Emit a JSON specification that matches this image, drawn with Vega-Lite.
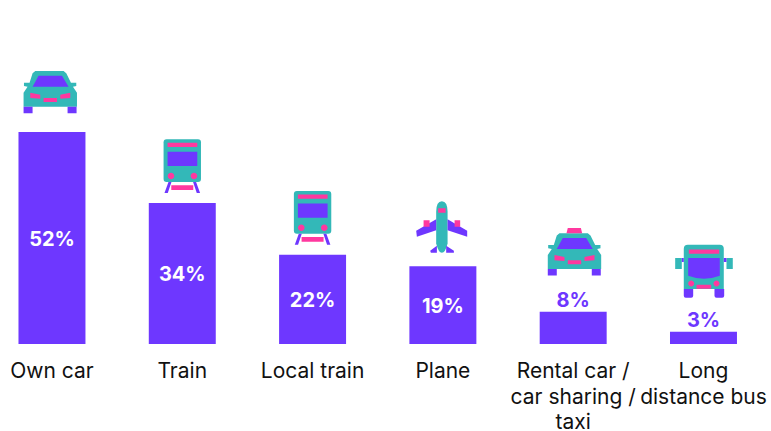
{
"$schema":"https://vega.github.io/schema/vega-lite/v6.json",
"width":771,"height":344,
"autosize":{"type":"none"},
"padding":{"left":0,"right":0,"top":0,"bottom":87},
"background":"white",
"config":{"view":{"stroke":null}},
"data":{"values":[
{"category":"Own car","value":52,"label":"52%"},
{"category":"Train","value":34.6,"label":"34%"},
{"category":"Local train","value":21.9,"label":"22%"},
{"category":"Plane","value":19.1,"label":"19%"},
{"category":"Rental car / car sharing / taxi","value":7.9,"label":"8%"},
{"category":"Long distance bus","value":3,"label":"3%"}
]},
"encoding":{
"x":{"field":"category","type":"nominal","sort":null,"title":null,
"scale":{"paddingInner":0.486,"paddingOuter":0.2015,"align":0.352},
"axis":{"domain":false,"ticks":false,"labelAngle":0,"labelFont":"Inter","labelFontSize":21,"labelColor":"#111111","labelLimit":400,"labelPadding":33.5,"labelLineHeight":25.5,"labelBaseline":"alphabetic",
"labelExpr":"datum.label=='Rental car / car sharing / taxi' ? ['Rental car /','car sharing /','taxi'] : datum.label=='Long distance bus' ? ['Long','distance bus'] : datum.label"}},
"y":{"field":"value","type":"quantitative","title":null,"axis":null,"scale":{"domain":[0,84.4],"nice":false,"zero":true}}
},
"layer":[
{"mark":{"type":"bar","color":"#6e37ff"}},
{"mark":{"type":"point","filled":true,"opacity":1,"size":4,"color":"#33b8b8"},
"encoding":{"shape":{"field":"category","type":"nominal","legend":null,"scale":{"domain":["Own car","Train","Local train","Plane","Rental car / car sharing / taxi","Long distance bus"],"range":[
"M-16.7,-61 L11.6,-61 L14.3,-58.7 L19,-49.3 L24.3,-49.3 L24.3,-46 L21,-45.3 L25,-39.3 L25,-25.3 L-28.4,-25.3 L-28.4,-39.3 L-24.4,-45.3 L-28,-46 L-28,-49.3 L-22.4,-49.3 L-19.4,-58.7 Z",
"M-15.7,-63.7 L15.7,-63.7 Q18.7,-63.7 18.7,-60.7 L18.7,-24 Q18.7,-21 15.7,-21 L-15.7,-21 Q-18.7,-21 -18.7,-24 L-18.7,-60.7 Q-18.7,-63.7 -15.7,-63.7 Z",
"M-15.7,-63.7 L15.7,-63.7 Q18.7,-63.7 18.7,-60.7 L18.7,-24 Q18.7,-21 15.7,-21 L-15.7,-21 Q-18.7,-21 -18.7,-24 L-18.7,-60.7 Q-18.7,-63.7 -15.7,-63.7 Z",
"M-1,-65 Q4.7,-65 4.7,-54.3 L4.7,-22.7 Q2.3,-13.3 -1,-13.3 Q-4.3,-13.3 -6.7,-22.7 L-6.7,-54.3 Q-6.7,-65 -1,-65 Z",
"M-13.7,-78.5 L14.6,-78.5 L17.3,-76.2 L22,-66.8 L27.3,-66.8 L27.3,-63.5 L24,-62.8 L28,-56.8 L28,-42.8 L-25.4,-42.8 L-25.4,-56.8 L-21.4,-62.8 L-25,-63.5 L-25,-66.8 L-19.4,-66.8 L-16.4,-76.2 Z",
"M-15.7,-87 L16.3,-87 Q20.3,-87 20.3,-83 L20.3,-42.7 L-19.7,-42.7 L-19.7,-83 Q-19.7,-87 -15.7,-87 Z M-28.3,-73.7 L-21.7,-73.7 L-21.7,-62.7 L-28.3,-62.7 Z M23,-73.7 L29.3,-73.7 L29.3,-62.7 L23,-62.7 Z"
]}}}},
{"mark":{"type":"point","filled":true,"opacity":1,"size":4,"color":"#6e37ff"},
"encoding":{"shape":{"field":"category","type":"nominal","legend":null,"scale":{"domain":["Own car","Train","Local train","Plane","Rental car / car sharing / taxi","Long distance bus"],"range":[
"M-13.4,-56.3 L10,-56.3 L16.6,-45.3 L-19.4,-45.3 Z M-28.4,-25.3 L-19.4,-25.3 L-19.4,-18.7 L-28.4,-18.7 Z M15.6,-25.3 L24.6,-25.3 L24.6,-18.7 L15.6,-18.7 Z",
"M-14.7,-51.3 L15,-51.3 L15,-37 L-14.7,-37 Z M-13.8,-21 L-10.8,-21 L-14.5,-10 L-17.8,-10 Z M10.8,-21 L13.8,-21 L17.8,-10 L14.5,-10 Z",
"M-14.7,-51.3 L15,-51.3 L15,-37 L-14.7,-37 Z M-13.8,-21 L-10.8,-21 L-14.5,-10 L-17.8,-10 Z M10.8,-21 L13.8,-21 L17.8,-10 L14.5,-10 Z",
"M-6.7,-47 L-26.7,-35.3 L-26,-29.3 L-6.7,-36 Z M4.7,-47 L24.3,-35.3 L24.3,-29.3 L4.7,-36 Z M-6,-20.3 L-12.7,-15.3 L-12,-13.3 L-6,-13.3 Z M3.3,-20.3 L11,-15.3 L11,-13.3 L3.3,-13.3 Z",
"M-10.4,-73.8 L13,-73.8 L19.6,-62.8 L-16.4,-62.8 Z M-25.4,-42.8 L-16.4,-42.8 L-16.4,-36.2 L-25.4,-36.2 Z M18.6,-42.8 L27.6,-42.8 L27.6,-36.2 L18.6,-36.2 Z",
"M-15.3,-73.7 L16.3,-73.7 L16.3,-56 Q0.5,-50 -15.3,-56 Z M-19.7,-42.7 L-10.3,-42.7 L-10.3,-36 Q-10.3,-34 -12.3,-34 L-17.7,-34 Q-19.7,-34 -19.7,-36 Z M11,-42.7 L20.7,-42.7 L20.7,-36 Q20.7,-34 18.7,-34 L13,-34 Q11,-34 11,-36 Z M-21.7,-73.7 L-19.7,-73.7 L-19.7,-69.7 L-21.7,-69.7 Z M20.3,-73.7 L23,-73.7 L23,-69.7 L20.3,-69.7 Z"
]}}}},
{"mark":{"type":"point","filled":true,"opacity":1,"size":4,"color":"#ff389f"},
"encoding":{"shape":{"field":"category","type":"nominal","legend":null,"scale":{"domain":["Own car","Train","Local train","Plane","Rental car / car sharing / taxi","Long distance bus"],"range":[
"M-21.7,-39.3 L-11.7,-37.3 L-11.7,-33.3 L-21.7,-34 Z M18.3,-39.3 L8.3,-37.3 L8.3,-33.3 L18.3,-34 Z M-8.4,-34 L5,-34 L5,-30 L-8.4,-30 Z",
"M-14.7,-60.3 L15,-60.3 L15,-56 L-14.7,-56 Z M-11,-17.7 L11,-17.7 L11,-13 L-11,-13 Z M-14.6,-27 A3.3,3.3 0 1 0 -8,-27 A3.3,3.3 0 1 0 -14.6,-27 Z M8.4,-27 A3.3,3.3 0 1 0 15,-27 A3.3,3.3 0 1 0 8.4,-27 Z",
"M-14.7,-60.3 L15,-60.3 L15,-56 L-14.7,-56 Z M-11,-17.7 L11,-17.7 L11,-13 L-11,-13 Z M-14.6,-27 A3.3,3.3 0 1 0 -8,-27 A3.3,3.3 0 1 0 -14.6,-27 Z M8.4,-27 A3.3,3.3 0 1 0 15,-27 A3.3,3.3 0 1 0 8.4,-27 Z",
"M-4.7,-58 L2.7,-58 L2.7,-53.3 L-4.7,-53.3 Z M-19.3,-46 L-13.3,-46 L-13.3,-39.3 L-19.3,-39.3 Z M11.7,-46 L17.3,-46 L17.3,-39.3 L11.7,-39.3 Z",
"M-18.7,-56.8 L-8.7,-54.8 L-8.7,-50.8 L-18.7,-51.5 Z M21.3,-56.8 L11.3,-54.8 L11.3,-50.8 L21.3,-51.5 Z M-5.4,-51.5 L8,-51.5 L8,-47.5 L-5.4,-47.5 Z M-6.7,-78.5 L-5.4,-83.7 L7.7,-83.7 L9,-78.5 Z",
"M-14.7,-82.3 L15.7,-82.3 L15.7,-78 L-14.7,-78 Z M-7,-47 L7.7,-47 L7.7,-43 L-7,-43 Z M-15.3,-48.3 A3,3 0 1 0 -9.3,-48.3 A3,3 0 1 0 -15.3,-48.3 Z M10,-48.3 A3,3 0 1 0 16,-48.3 A3,3 0 1 0 10,-48.3 Z"
]}}}},
{"transform":[{"filter":"datum.value>=10"},{"calculate":"datum.value/2","as":"mid"}],
"mark":{"type":"text","font":"Inter","fontSize":20,"fontWeight":"bold","color":"#ffffff","baseline":"middle","dy":1.5},
"encoding":{"y":{"field":"mid","type":"quantitative"},"text":{"field":"label"}}},
{"transform":[{"filter":"datum.value<10"}],
"mark":{"type":"text","font":"Inter","fontSize":20,"fontWeight":"bold","color":"#6e37ff","baseline":"middle","dy":-11},
"encoding":{"text":{"field":"label"}}}
],
"resolve":{"scale":{"shape":"independent"}}
}
